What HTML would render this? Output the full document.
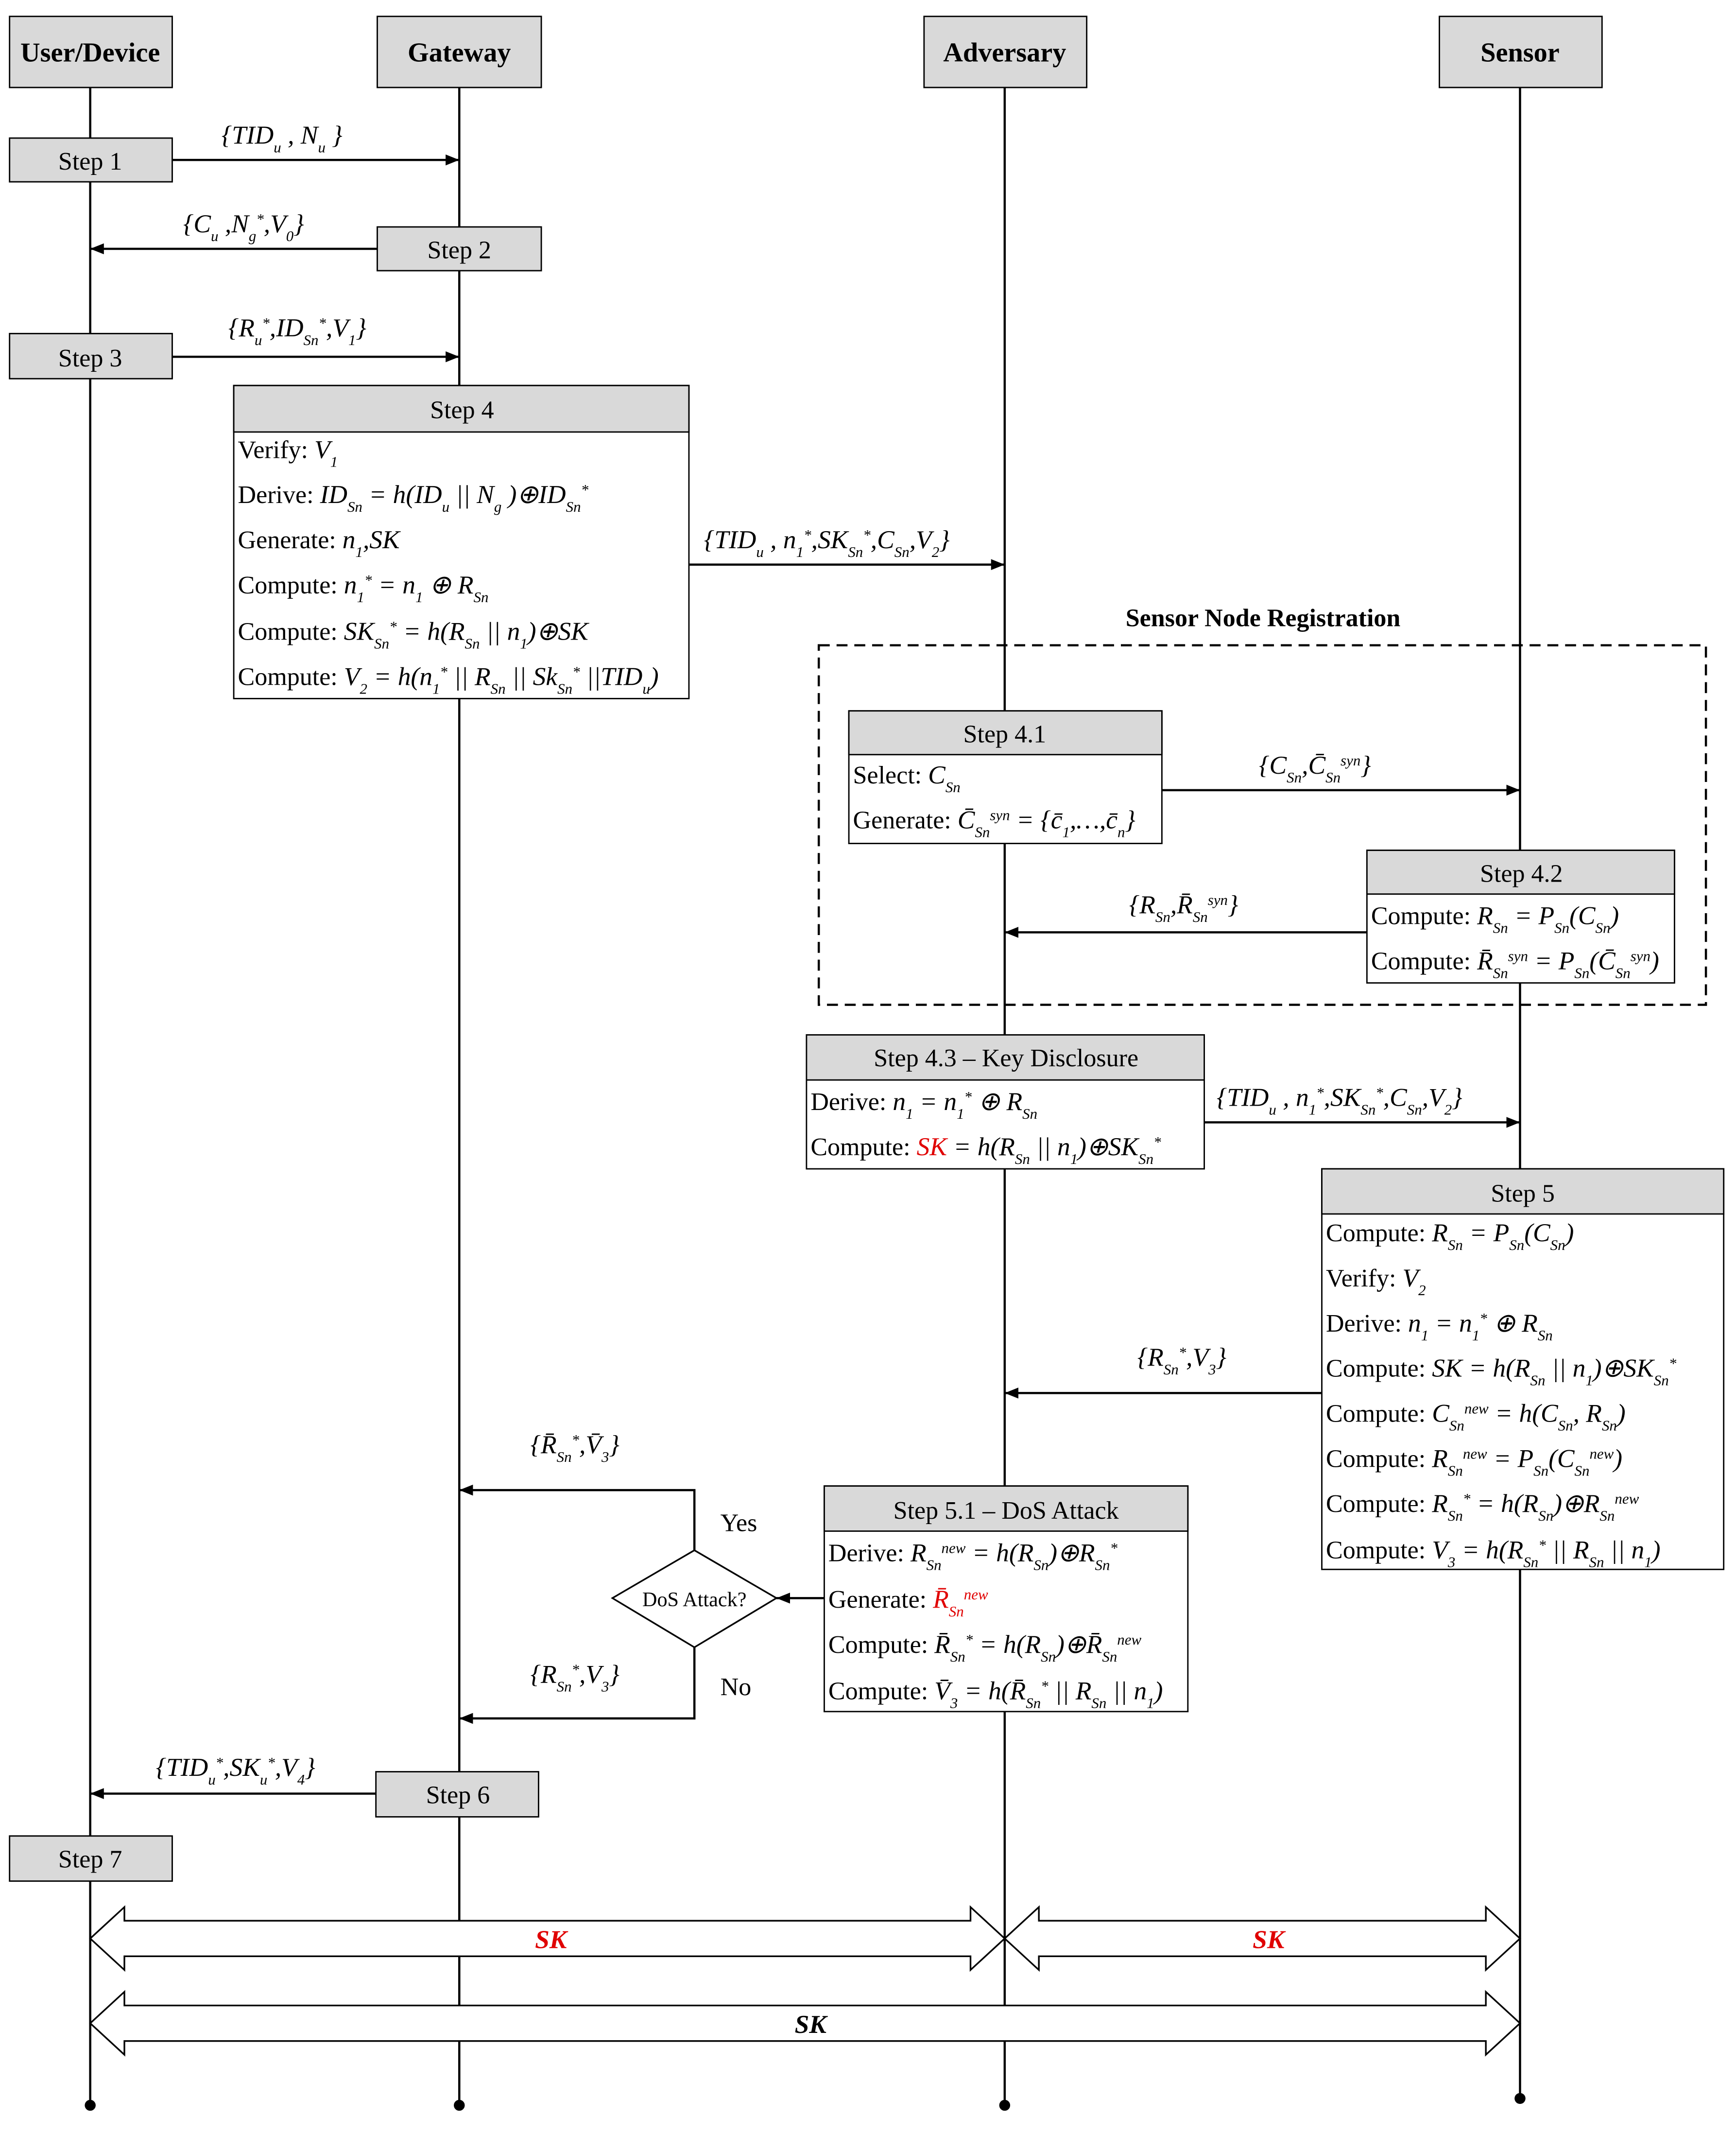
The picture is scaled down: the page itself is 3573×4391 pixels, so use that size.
<!DOCTYPE html>
<html><head><meta charset="utf-8">
<style>
html,body{margin:0;padding:0;background:#fff;}
svg{display:block;}
text{font-family:"Liberation Serif",serif;fill:#000;}
.h{font-size:20px;font-weight:bold;text-anchor:middle;}
.t{font-size:18.5px;}
.c{text-anchor:middle;}
.m{font-size:19px;font-style:italic;}
.s{font-size:11px;baseline-shift:sub;}
.p{font-size:11px;baseline-shift:super;}
.n{font-style:normal;}
.box{fill:#fff;stroke:#000;stroke-width:1;}
.hd{fill:#d9d9d9;stroke:#000;stroke-width:1;}
.ln{stroke:#000;stroke-width:1.6;fill:none;}
</style></head>
<body>
<svg width="3573" height="4391" viewBox="0 0 1270 1561" preserveAspectRatio="none" xmlns="http://www.w3.org/2000/svg">
<defs>
<marker id="a" markerWidth="10" markerHeight="8" refX="10" refY="4" orient="auto" markerUnits="userSpaceOnUse">
<path d="M0,0 L10,4 L0,8 Z" fill="#000"/></marker>
</defs>
<rect width="1270" height="1561" fill="#fff"/>
<!-- lifelines -->
<line class="ln" x1="66" y1="64" x2="66" y2="1540"/>
<line class="ln" x1="336" y1="64" x2="336" y2="1540"/>
<line class="ln" x1="735" y1="64" x2="735" y2="1540"/>
<line class="ln" x1="1112" y1="64" x2="1112" y2="1535"/>
<circle cx="66" cy="1540" r="4"/><circle cx="336" cy="1540" r="4"/><circle cx="735" cy="1540" r="4"/><circle cx="1112" cy="1535" r="4"/>
<!-- headers -->
<rect class="hd" x="7" y="12" width="119" height="52"/><text class="h" x="66" y="45">User/Device</text>
<rect class="hd" x="276" y="12" width="120" height="52"/><text class="h" x="336" y="45">Gateway</text>
<rect class="hd" x="676" y="12" width="119" height="52"/><text class="h" x="735" y="45">Adversary</text>
<rect class="hd" x="1053" y="12" width="119" height="52"/><text class="h" x="1112" y="45">Sensor</text>

<!-- Step1 -->
<line class="ln" x1="126" y1="117" x2="336" y2="117" marker-end="url(#a)"/>
<rect class="hd" x="7" y="101" width="119" height="32"/><text class="t c" x="66" y="124">Step 1</text>
<text class="m" x="162" y="105">{TID<tspan class="s">u</tspan> , N<tspan class="s">u</tspan> }</text>
<!-- Step2 -->
<line class="ln" x1="276" y1="182" x2="66" y2="182" marker-end="url(#a)"/>
<rect class="hd" x="276" y="166" width="120" height="32"/><text class="t c" x="336" y="189">Step 2</text>
<text class="m" x="134" y="170">{C<tspan class="s">u</tspan> ,N<tspan class="s">g</tspan><tspan class="p">*</tspan>,V<tspan class="s">0</tspan>}</text>
<!-- Step3 -->
<line class="ln" x1="126" y1="261" x2="336" y2="261" marker-end="url(#a)"/>
<rect class="hd" x="7" y="244" width="119" height="33"/><text class="t c" x="66" y="268">Step 3</text>
<text class="m" x="167" y="246">{R<tspan class="s">u</tspan><tspan class="p">*</tspan>,ID<tspan class="s">Sn</tspan><tspan class="p">*</tspan>,V<tspan class="s">1</tspan>}</text>

<!-- Step4 -->
<rect class="box" x="171" y="282" width="333" height="229"/>
<rect class="hd" x="171" y="282" width="333" height="34"/><text class="t c" x="338" y="306">Step 4</text>
<text class="t" x="174" y="335">Verify: <tspan class="m">V<tspan class="s">1</tspan></tspan></text>
<text class="t" x="174" y="368">Derive: <tspan class="m">ID<tspan class="s">Sn</tspan> = h(ID<tspan class="s">u</tspan> || N<tspan class="s">g</tspan> )⊕ID<tspan class="s">Sn</tspan><tspan class="p">*</tspan></tspan></text>
<text class="t" x="174" y="401">Generate: <tspan class="m">n<tspan class="s">1</tspan>,SK</tspan></text>
<text class="t" x="174" y="434">Compute: <tspan class="m">n<tspan class="s">1</tspan><tspan class="p">*</tspan> = n<tspan class="s">1</tspan> ⊕ R<tspan class="s">Sn</tspan></tspan></text>
<text class="t" x="174" y="468">Compute: <tspan class="m">SK<tspan class="s">Sn</tspan><tspan class="p">*</tspan> = h(R<tspan class="s">Sn</tspan> || n<tspan class="s">1</tspan>)⊕SK</tspan></text>
<text class="t" x="174" y="501">Compute: <tspan class="m">V<tspan class="s">2</tspan> = h(n<tspan class="s">1</tspan><tspan class="p">*</tspan> || R<tspan class="s">Sn</tspan> || Sk<tspan class="s">Sn</tspan><tspan class="p">*</tspan> ||TID<tspan class="s">u</tspan>)</tspan></text>
<line class="ln" x1="504" y1="413" x2="735" y2="413" marker-end="url(#a)"/>
<text class="m" x="515" y="401">{TID<tspan class="s">u</tspan> , n<tspan class="s">1</tspan><tspan class="p">*</tspan>,SK<tspan class="s">Sn</tspan><tspan class="p">*</tspan>,C<tspan class="s">Sn</tspan>,V<tspan class="s">2</tspan>}</text>

<!-- Sensor node registration -->
<text class="h" x="924" y="458" style="font-size:18.5px">Sensor Node Registration</text>
<rect x="599" y="472" width="649" height="263" fill="none" stroke="#000" stroke-width="1.6" stroke-dasharray="8,5"/>
<rect class="box" x="621" y="520" width="229" height="97"/>
<rect class="hd" x="621" y="520" width="229" height="32"/><text class="t c" x="735" y="543">Step 4.1</text>
<text class="t" x="624" y="573">Select: <tspan class="m">C<tspan class="s">Sn</tspan></tspan></text>
<text class="t" x="624" y="606">Generate: <tspan class="m">C̄<tspan class="s">Sn</tspan><tspan class="p">syn</tspan> = {c̄<tspan class="s">1</tspan>,…,c̄<tspan class="s">n</tspan>}</tspan></text>
<line class="ln" x1="850" y1="578" x2="1112" y2="578" marker-end="url(#a)"/>
<text class="m" x="921" y="566">{C<tspan class="s">Sn</tspan>,C̄<tspan class="s">Sn</tspan><tspan class="p">syn</tspan>}</text>
<rect class="box" x="1000" y="622" width="225" height="97"/>
<rect class="hd" x="1000" y="622" width="225" height="32"/><text class="t c" x="1113" y="645">Step 4.2</text>
<text class="t" x="1003" y="676">Compute: <tspan class="m">R<tspan class="s">Sn</tspan> = P<tspan class="s">Sn</tspan>(C<tspan class="s">Sn</tspan>)</tspan></text>
<text class="t" x="1003" y="709">Compute: <tspan class="m">R̄<tspan class="s">Sn</tspan><tspan class="p">syn</tspan> = P<tspan class="s">Sn</tspan>(C̄<tspan class="s">Sn</tspan><tspan class="p">syn</tspan>)</tspan></text>
<line class="ln" x1="1000" y1="682" x2="735" y2="682" marker-end="url(#a)"/>
<text class="m" x="826" y="668">{R<tspan class="s">Sn</tspan>,R̄<tspan class="s">Sn</tspan><tspan class="p">syn</tspan>}</text>

<!-- Step 4.3 -->
<rect class="box" x="590" y="757" width="291" height="98"/>
<rect class="hd" x="590" y="757" width="291" height="33"/><text class="t c" x="736" y="780">Step 4.3 – Key Disclosure</text>
<text class="t" x="593" y="812">Derive: <tspan class="m">n<tspan class="s">1</tspan> = n<tspan class="s">1</tspan><tspan class="p">*</tspan> ⊕ R<tspan class="s">Sn</tspan></tspan></text>
<text class="t" x="593" y="845">Compute: <tspan class="m" style="fill:#e00000">SK</tspan><tspan class="m"> = h(R<tspan class="s">Sn</tspan> || n<tspan class="s">1</tspan>)⊕SK<tspan class="s">Sn</tspan><tspan class="p">*</tspan></tspan></text>
<line class="ln" x1="881" y1="821" x2="1112" y2="821" marker-end="url(#a)"/>
<text class="m" x="890" y="809">{TID<tspan class="s">u</tspan> , n<tspan class="s">1</tspan><tspan class="p">*</tspan>,SK<tspan class="s">Sn</tspan><tspan class="p">*</tspan>,C<tspan class="s">Sn</tspan>,V<tspan class="s">2</tspan>}</text>

<!-- Step 5 -->
<rect class="box" x="967" y="855" width="294" height="293"/>
<rect class="hd" x="967" y="855" width="294" height="33"/><text class="t c" x="1114" y="879">Step 5</text>
<text class="t" x="970" y="908">Compute: <tspan class="m">R<tspan class="s">Sn</tspan> = P<tspan class="s">Sn</tspan>(C<tspan class="s">Sn</tspan>)</tspan></text>
<text class="t" x="970" y="941">Verify: <tspan class="m">V<tspan class="s">2</tspan></tspan></text>
<text class="t" x="970" y="974">Derive: <tspan class="m">n<tspan class="s">1</tspan> = n<tspan class="s">1</tspan><tspan class="p">*</tspan> ⊕ R<tspan class="s">Sn</tspan></tspan></text>
<text class="t" x="970" y="1007">Compute: <tspan class="m">SK = h(R<tspan class="s">Sn</tspan> || n<tspan class="s">1</tspan>)⊕SK<tspan class="s">Sn</tspan><tspan class="p">*</tspan></tspan></text>
<text class="t" x="970" y="1040">Compute: <tspan class="m">C<tspan class="s">Sn</tspan><tspan class="p">new</tspan> = h(C<tspan class="s">Sn</tspan>, R<tspan class="s">Sn</tspan>)</tspan></text>
<text class="t" x="970" y="1073">Compute: <tspan class="m">R<tspan class="s">Sn</tspan><tspan class="p">new</tspan> = P<tspan class="s">Sn</tspan>(C<tspan class="s">Sn</tspan><tspan class="p">new</tspan>)</tspan></text>
<text class="t" x="970" y="1106">Compute: <tspan class="m">R<tspan class="s">Sn</tspan><tspan class="p">*</tspan> = h(R<tspan class="s">Sn</tspan>)⊕R<tspan class="s">Sn</tspan><tspan class="p">new</tspan></tspan></text>
<text class="t" x="970" y="1140">Compute: <tspan class="m">V<tspan class="s">3</tspan> = h(R<tspan class="s">Sn</tspan><tspan class="p">*</tspan> || R<tspan class="s">Sn</tspan> || n<tspan class="s">1</tspan>)</tspan></text>
<line class="ln" x1="967" y1="1019" x2="735" y2="1019" marker-end="url(#a)"/>
<text class="m" x="832" y="999">{R<tspan class="s">Sn</tspan><tspan class="p">*</tspan>,V<tspan class="s">3</tspan>}</text>

<!-- Step 5.1 -->
<rect class="box" x="603" y="1087" width="266" height="165"/>
<rect class="hd" x="603" y="1087" width="266" height="33"/><text class="t c" x="736" y="1111">Step 5.1 – DoS Attack</text>
<text class="t" x="606" y="1142">Derive: <tspan class="m">R<tspan class="s">Sn</tspan><tspan class="p">new</tspan> = h(R<tspan class="s">Sn</tspan>)⊕R<tspan class="s">Sn</tspan><tspan class="p">*</tspan></tspan></text>
<text class="t" x="606" y="1176">Generate: <tspan class="m" style="fill:#e00000">R̄<tspan class="s">Sn</tspan><tspan class="p">new</tspan></tspan></text>
<text class="t" x="606" y="1209">Compute: <tspan class="m">R̄<tspan class="s">Sn</tspan><tspan class="p">*</tspan> = h(R<tspan class="s">Sn</tspan>)⊕R̄<tspan class="s">Sn</tspan><tspan class="p">new</tspan></tspan></text>
<text class="t" x="606" y="1243">Compute: <tspan class="m">V̄<tspan class="s">3</tspan> = h(R̄<tspan class="s">Sn</tspan><tspan class="p">*</tspan> || R<tspan class="s">Sn</tspan> || n<tspan class="s">1</tspan>)</tspan></text>
<line class="ln" x1="603" y1="1169" x2="568" y2="1169" marker-end="url(#a)"/>
<polygon points="508,1134 568,1169 508,1205 448,1169" fill="#fff" stroke="#000" stroke-width="1.2"/>
<text class="c" x="508" y="1175" style="font-size:15px">DoS Attack?</text>
<polyline class="ln" points="508,1134 508,1090 336,1090" marker-end="url(#a)"/>
<polyline class="ln" points="508,1205 508,1257 336,1257" marker-end="url(#a)"/>
<text class="t" x="527" y="1120">Yes</text>
<text class="t" x="527" y="1240">No</text>
<text class="m" x="388" y="1063">{R̄<tspan class="s">Sn</tspan><tspan class="p">*</tspan>,V̄<tspan class="s">3</tspan>}</text>
<text class="m" x="388" y="1231">{R<tspan class="s">Sn</tspan><tspan class="p">*</tspan>,V<tspan class="s">3</tspan>}</text>

<!-- Step 6 / 7 -->
<line class="ln" x1="275" y1="1312" x2="66" y2="1312" marker-end="url(#a)"/>
<rect class="hd" x="275" y="1296" width="119" height="33"/><text class="t c" x="335" y="1319">Step 6</text>
<text class="m" x="114" y="1299">{TID<tspan class="s">u</tspan><tspan class="p">*</tspan>,SK<tspan class="s">u</tspan><tspan class="p">*</tspan>,V<tspan class="s">4</tspan>}</text>
<rect class="hd" x="7" y="1343" width="119" height="33"/><text class="t c" x="66" y="1366">Step 7</text>

<!-- double arrows -->
<path d="M66,1418 L91,1395 L91,1405 L710,1405 L710,1395 L735,1418 L710,1441 L710,1431 L91,1431 L91,1441 Z" fill="#fff" stroke="#000" stroke-width="1.2"/>
<path d="M735,1418 L760,1395 L760,1405 L1087,1405 L1087,1395 L1112,1418 L1087,1441 L1087,1431 L760,1431 L760,1441 Z" fill="#fff" stroke="#000" stroke-width="1.2"/>
<path d="M66,1480 L91,1457 L91,1467 L1087,1467 L1087,1457 L1112,1480 L1087,1503 L1087,1493 L91,1493 L91,1503 Z" fill="#fff" stroke="#000" stroke-width="1.2"/>
<text x="403" y="1425" class="c" style="font-size:19px;font-weight:bold;font-style:italic;fill:#e00000">SK</text>
<text x="928" y="1425" class="c" style="font-size:19px;font-weight:bold;font-style:italic;fill:#e00000">SK</text>
<text x="593" y="1487" class="c" style="font-size:19px;font-weight:bold;font-style:italic">SK</text>
</svg>
</body></html>
